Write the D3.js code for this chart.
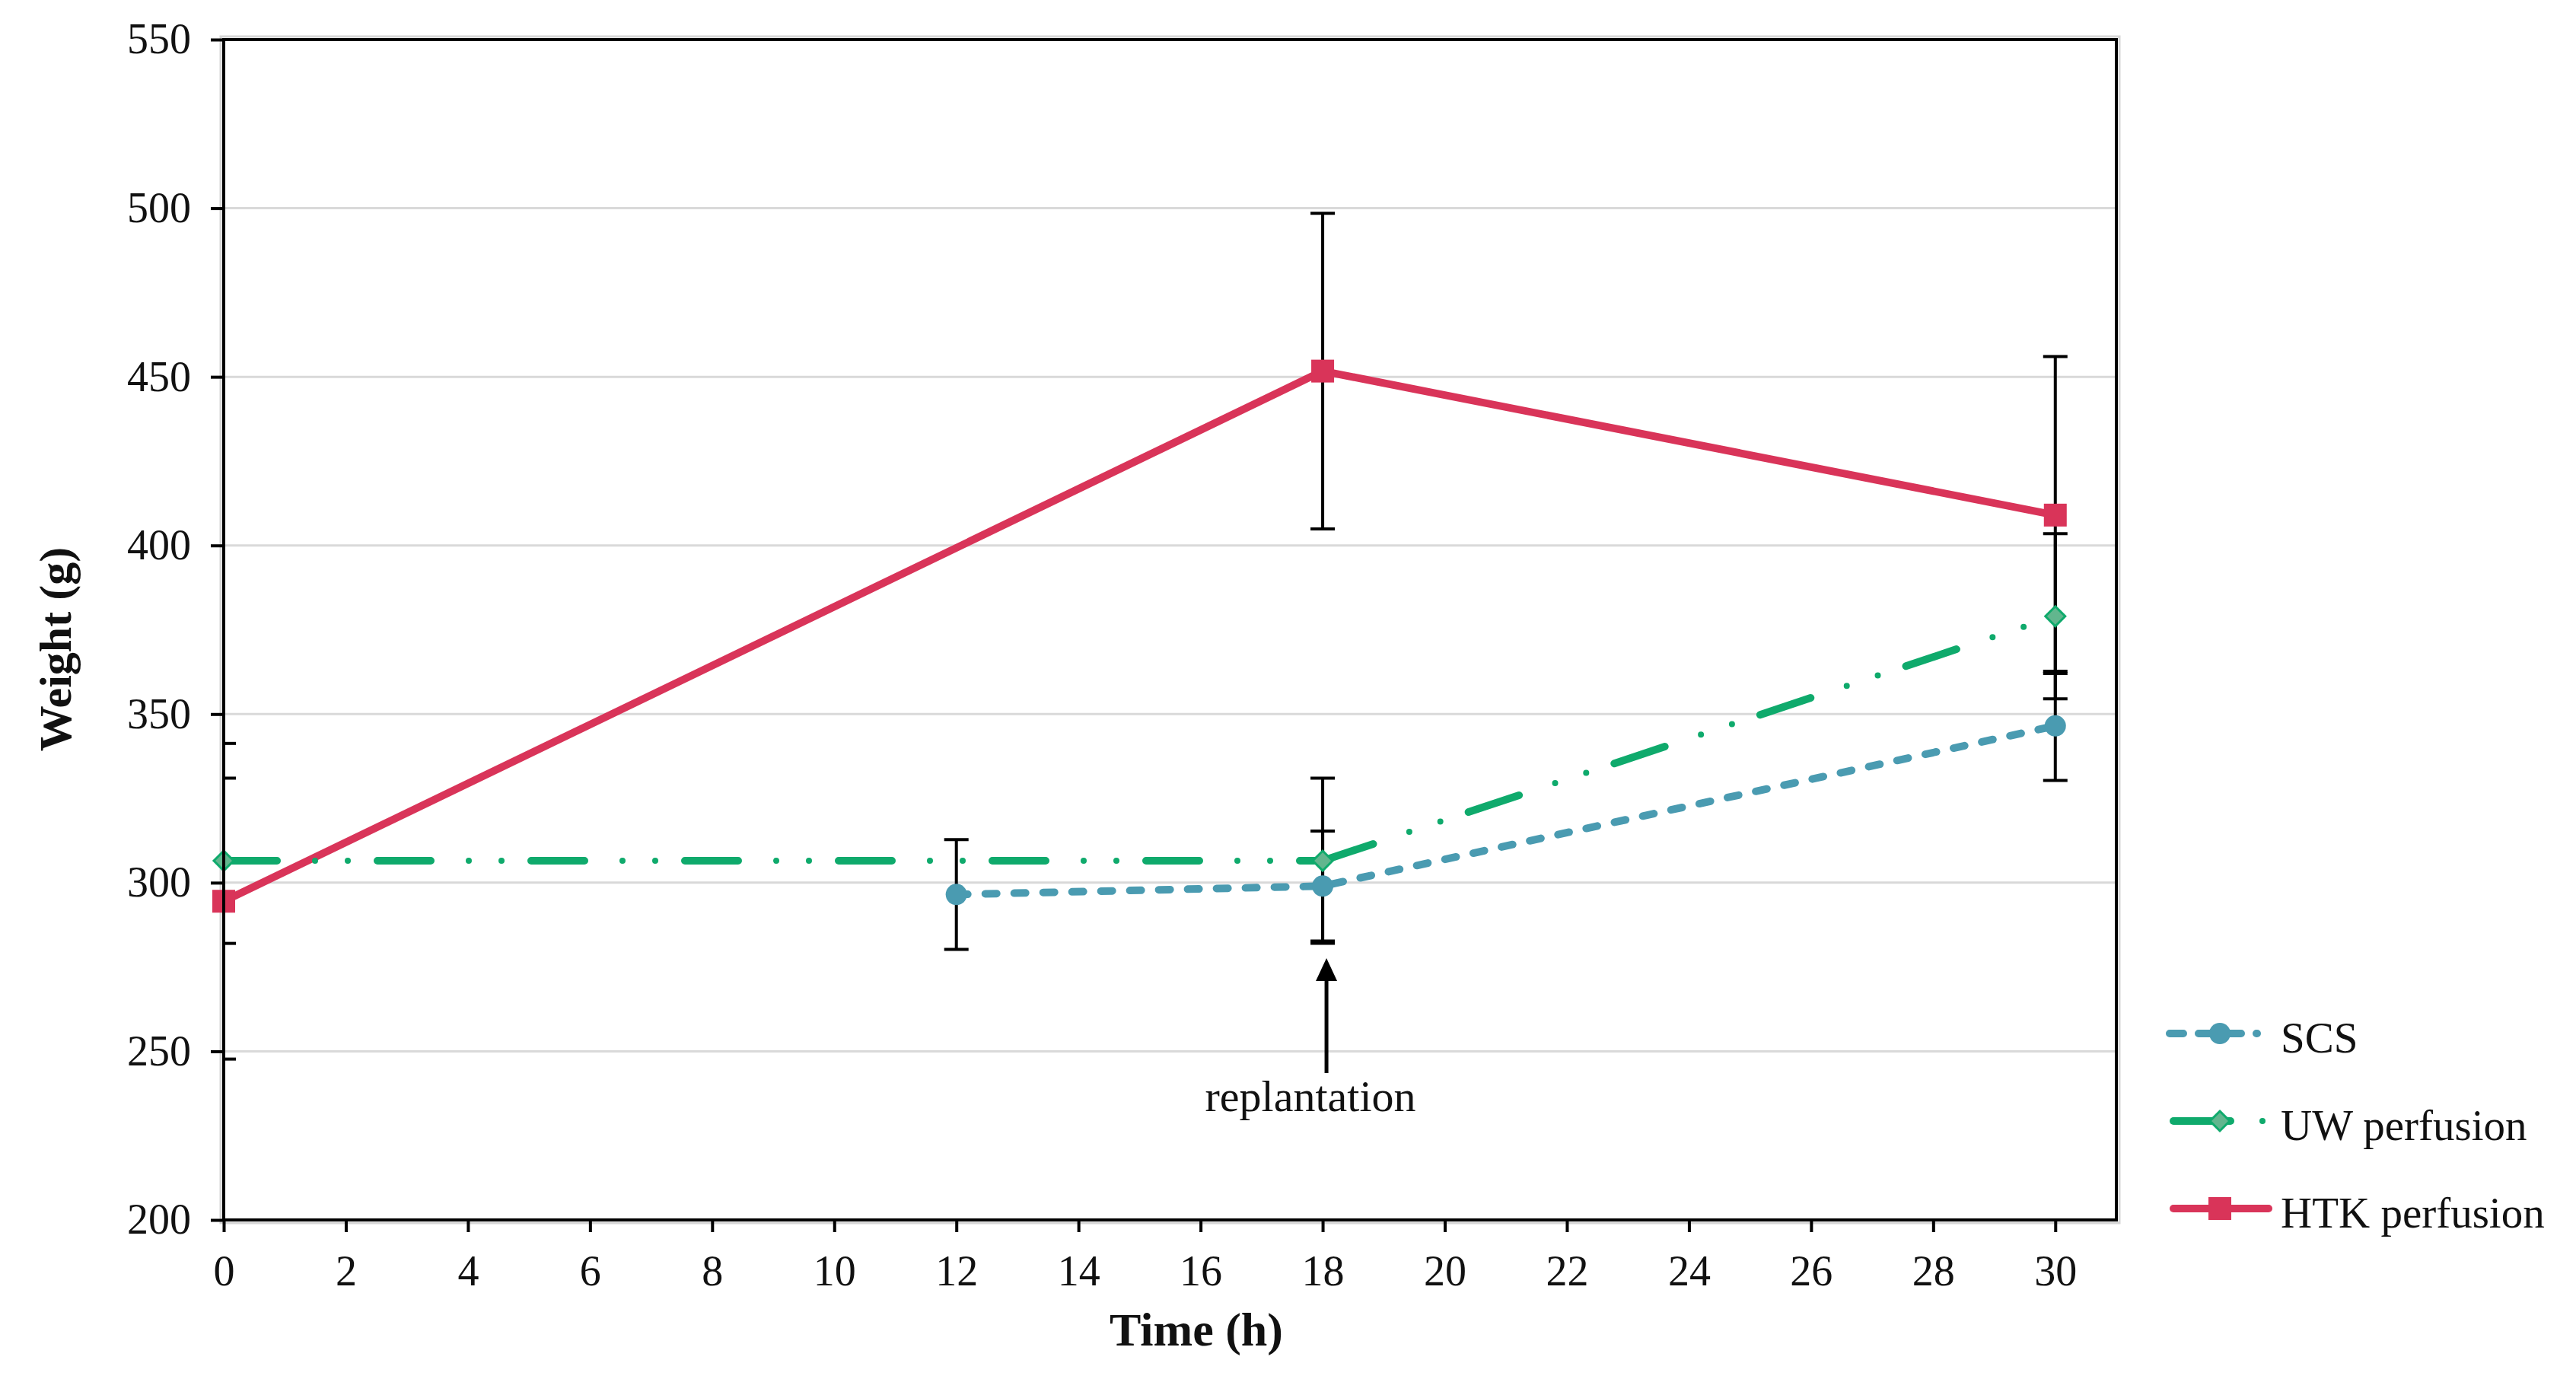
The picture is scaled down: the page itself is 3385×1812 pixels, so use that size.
<!DOCTYPE html>
<html>
<head>
<meta charset="utf-8">
<script src="https://cdn.jsdelivr.net/npm/d3@7"></script>
<style>
  body { margin: 0; background: #fff; }
  svg { display: block; }
  text { font-family: "Liberation Serif", "DejaVu Serif", serif; fill: #111; }
</style>
</head>
<body>
<div id="chart"></div>
<script>
// tick labels
const xTickValues = [0, 2, 4, 6, 8, 10, 12, 14, 16, 18, 20, 22, 24, 26, 28, 30]
const yTickValues = [200, 250, 300, 350, 400, 450, 500, 550]

// series (time in h, weight in g, error)
const seriesNames = ["SCS", "UW perfusion", "HTK perfusion"]
const scsTime = [12, 18, 30]
const scsWeight = [296.5, 299, 346.5]
const scsError = [16.3, 16.3, 16.2]
const uwTime = [0, 18, 30]
const uwWeight = [306.5, 306.5, 379]
const uwError = [24.5, 24.5, 24.5]
const htkTime = [0, 18, 30]
const htkWeight = [294.5, 451.7, 409]
const htkError = [46.8, 46.8, 47]

const annotationTime = 18
const annotationLabel = "replantation"

const W = 3385, H = 1812
const margin = { top: 52, right: W - 2781, bottom: H - 1603, left: 294 },
  width = W - margin.left - margin.right,
  height = H - margin.top - margin.bottom

const colors = { scs: "#4a9bb1", uw: "#0faa6c", uwFill: "#62b68e", htk: "#d93459" }

const svg = d3.select("#chart")
  .append("svg")
    .attr("width", W)
    .attr("height", H)
  .append("g")
    .attr("transform", `translate(${margin.left},${margin.top})`)

const x = d3.scaleLinear().domain([0, 31]).range([0, width])
const y = d3.scaleLinear().domain([200, 550]).range([height, 0])

const zip = (t, v, e) => t.map((d, i) => ({ t: d, v: v[i], e: e[i] }))
const scs = zip(scsTime, scsWeight, scsError)
const uw = zip(uwTime, uwWeight, uwError)
const htk = zip(htkTime, htkWeight, htkError)

svg.append("clipPath").attr("id", "plotClip")
  .append("rect").attr("width", width).attr("height", height)

// light outer border
svg.append("rect")
  .attr("x", -4).attr("y", -4)
  .attr("width", width + 8).attr("height", height + 8)
  .attr("fill", "none").attr("stroke", "#d6d6d6").attr("stroke-width", 3)

// gridlines
svg.append("g")
  .selectAll("line")
  .data(yTickValues.filter(d => d > 200 && d < 550))
  .join("line")
    .attr("x1", 0).attr("x2", width)
    .attr("y1", d => y(d)).attr("y2", d => y(d))
    .attr("stroke", "#d9d9d9").attr("stroke-width", 3)

// axes
const yAxis = svg.append("g")
  .call(d3.axisLeft(y).tickValues(yTickValues).tickSize(17).tickSizeOuter(0).tickPadding(26))
const xAxis = svg.append("g")
  .attr("transform", `translate(0,${height})`)
  .call(d3.axisBottom(x).tickValues(xTickValues).tickSize(16).tickSizeOuter(0).tickPadding(30))

for (const ax of [xAxis, yAxis]) {
  ax.select(".domain").remove()
  ax.selectAll(".tick line").attr("stroke", "#000").attr("stroke-width", 4)
  ax.selectAll(".tick text")
    .attr("font-family", "Liberation Serif, DejaVu Serif, serif")
    .attr("font-size", 56)
    .attr("fill", "#111")
}

// error bars
const errG = svg.append("g").attr("clip-path", "url(#plotClip)")
const capHalf = 16
for (const data of [scs, uw, htk]) {
  const g = errG.append("g").selectAll("g").data(data).join("g")
  g.append("line")
    .attr("x1", d => x(d.t)).attr("x2", d => x(d.t))
    .attr("y1", d => y(d.v + d.e)).attr("y2", d => y(d.v - d.e))
    .attr("stroke", "#000").attr("stroke-width", 4)
  g.append("line")
    .attr("x1", d => x(d.t) - capHalf).attr("x2", d => x(d.t) + capHalf)
    .attr("y1", d => y(d.v + d.e)).attr("y2", d => y(d.v + d.e))
    .attr("stroke", "#000").attr("stroke-width", 4)
  g.append("line")
    .attr("x1", d => x(d.t) - capHalf).attr("x2", d => x(d.t) + capHalf)
    .attr("y1", d => y(d.v - d.e)).attr("y2", d => y(d.v - d.e))
    .attr("stroke", "#000").attr("stroke-width", 4)
}

// lines
const line = d3.line().x(d => x(d.t)).y(d => y(d.v))

svg.append("path")
  .datum(htk)
  .attr("d", line)
  .attr("fill", "none")
  .attr("stroke", colors.htk)
  .attr("stroke-width", 10)
  .attr("stroke-linejoin", "round")

svg.append("path")
  .datum(scs)
  .attr("d", line)
  .attr("fill", "none")
  .attr("stroke", colors.scs)
  .attr("stroke-width", 10)
  .attr("stroke-linecap", "round")
  .attr("stroke-dasharray", "15 23")

// UW dash-dot-dot, pattern restarts on each segment
const uwSegs = d3.pairs(uw)
svg.append("g").selectAll("path")
  .data(uwSegs)
  .join("path")
    .attr("d", d => line(d))
    .attr("fill", "none")
    .attr("stroke", colors.uw)
    .attr("stroke-width", 10)
    .attr("stroke-linecap", "round")
    .attr("stroke-dasharray", "70 132")
svg.append("g").selectAll("path")
  .data(uwSegs)
  .join("path")
    .attr("d", d => line(d))
    .attr("fill", "none")
    .attr("stroke", colors.uw)
    .attr("stroke-width", 8)
    .attr("stroke-linecap", "round")
    .attr("stroke-dasharray", "0 43 0 159")
    .attr("stroke-dashoffset", -120)

// markers
svg.append("g").selectAll("circle")
  .data(scs)
  .join("circle")
    .attr("cx", d => x(d.t)).attr("cy", d => y(d.v))
    .attr("r", 14)
    .attr("fill", colors.scs)

const diamond = r => `M0,${-r}L${r},0L0,${r}L${-r},0Z`
svg.append("g").selectAll("path")
  .data(uw)
  .join("path")
    .attr("transform", d => `translate(${x(d.t)},${y(d.v)})`)
    .attr("d", diamond(13))
    .attr("fill", colors.uwFill)
    .attr("stroke", colors.uw)
    .attr("stroke-width", 3)

svg.append("g").selectAll("rect")
  .data(htk)
  .join("rect")
    .attr("x", d => x(d.t) - 15).attr("y", d => y(d.v) - 15)
    .attr("width", 30).attr("height", 30)
    .attr("fill", colors.htk)

// frame
svg.append("rect")
  .attr("width", width).attr("height", height)
  .attr("fill", "none").attr("stroke", "#000").attr("stroke-width", 4)

// annotation arrow
const ax0 = x(annotationTime) + 5
svg.append("line")
  .attr("x1", ax0).attr("x2", ax0)
  .attr("y1", 1410 - margin.top).attr("y2", 1282 - margin.top)
  .attr("stroke", "#000").attr("stroke-width", 5)
svg.append("path")
  .attr("d", `M${ax0},${1259 - margin.top}L${ax0 + 14},${1289 - margin.top}L${ax0 - 14},${1289 - margin.top}Z`)
  .attr("fill", "#000")
svg.append("text")
  .attr("x", x(annotationTime) - 16)
  .attr("y", 1460 - margin.top)
  .attr("text-anchor", "middle")
  .attr("font-size", 58)
  .text(annotationLabel)

// axis titles
svg.append("text")
  .attr("x", 1572 - margin.left)
  .attr("y", 1768 - margin.top)
  .attr("text-anchor", "middle")
  .attr("font-size", 62)
  .attr("font-weight", "bold")
  .text("Time (h)")

svg.append("text")
  .attr("transform", `translate(${73 - margin.left},${853 - margin.top}) rotate(-90)`)
  .attr("text-anchor", "middle")
  .attr("dominant-baseline", "central")
  .attr("font-size", 60)
  .attr("font-weight", "bold")
  .text("Weight (g)")

// legend
const legend = d3.select("svg").append("g").attr("transform", "translate(2851,0)")
const rowsY = [1358, 1473, 1588]

// SCS
legend.append("line")
  .attr("x1", 0).attr("x2", 115).attr("y1", rowsY[0]).attr("y2", rowsY[0])
  .attr("stroke", colors.scs).attr("stroke-width", 10)
  .attr("stroke-linecap", "round").attr("stroke-dasharray", "18 20")
legend.append("circle")
  .attr("cx", 66).attr("cy", rowsY[0]).attr("r", 14).attr("fill", colors.scs)

// UW
legend.append("line")
  .attr("x1", 5).attr("x2", 80).attr("y1", rowsY[1]).attr("y2", rowsY[1])
  .attr("stroke", colors.uw).attr("stroke-width", 10).attr("stroke-linecap", "round")
legend.append("circle")
  .attr("cx", 122).attr("cy", rowsY[1]).attr("r", 4).attr("fill", colors.uw)
legend.append("path")
  .attr("transform", `translate(66,${rowsY[1]})`)
  .attr("d", diamond(13))
  .attr("fill", colors.uwFill).attr("stroke", colors.uw).attr("stroke-width", 3)

// HTK
legend.append("line")
  .attr("x1", 5).attr("x2", 130).attr("y1", rowsY[2]).attr("y2", rowsY[2])
  .attr("stroke", colors.htk).attr("stroke-width", 10).attr("stroke-linecap", "round")
legend.append("rect")
  .attr("x", 51).attr("y", rowsY[2] - 15).attr("width", 30).attr("height", 30)
  .attr("fill", colors.htk)

legend.selectAll("text.lbl")
  .data(seriesNames)
  .join("text")
    .attr("class", "lbl")
    .attr("x", 146)
    .attr("y", (d, i) => rowsY[i] + 25)
    .attr("font-size", 57)
    .text(d => d)
</script>
</body>
</html>
